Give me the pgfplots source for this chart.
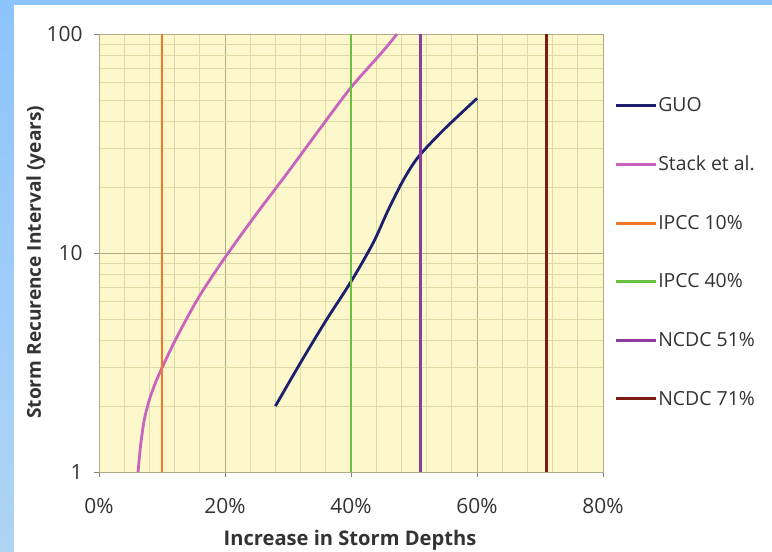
\documentclass[border=0pt]{standalone}
\usepackage{pgfplots}
\pgfplotsset{compat=1.18}
\usepackage{fontspec}
\setmainfont{Open Sans}
\definecolor{bgblue}{HTML}{8CC4FF}
\definecolor{bgblue2}{HTML}{AED4F4}
\definecolor{plotbg}{HTML}{FCF8CC}
\definecolor{majgrid}{HTML}{B0AC88}
\definecolor{mingrid}{HTML}{DEDAA6}
\definecolor{guo}{HTML}{1E1E6E}
\definecolor{stack}{HTML}{C864BE}
\definecolor{ipccA}{HTML}{F07828}
\definecolor{ipccB}{HTML}{6CC040}
\definecolor{ncdcA}{HTML}{8C3C9C}
\definecolor{ncdcB}{HTML}{7C1C14}
\definecolor{txt}{HTML}{333333}
\begin{document}
\begin{tikzpicture}[x=1bp,y=1bp]
\shade[top color=bgblue, bottom color=bgblue2] (0,0) rectangle (772,552);
\fill[white] (14,0) rectangle (772,547);
\begin{axis}[
  at={(99bp,80bp)}, anchor=south west,
  scale only axis, width=504bp, height=438bp,
  ymode=log, xmin=0, xmax=80, ymin=1, ymax=100,
  axis background/.style={fill=plotbg},
  xtick={0,20,40,60,80},
  xticklabels={0\%,20\%,40\%,60\%,80\%},
  ytick={1,10,100}, yticklabels={1,10,100},
  minor x tick num=4,
  grid=both,
  major grid style={draw=majgrid, line width=0.9bp},
  minor grid style={draw=mingrid, line width=0.7bp},
  tick align=outside, major tick length=5bp, minor tick length=0pt,
  xtick pos=bottom, ytick pos=left,
  tick style={draw=gray, line width=0.8bp},
  axis line style={draw=majgrid, line width=0.8bp},
  /pgf/number format/assume math mode=true,
  tick label style={font=\fontsize{21}{24}\selectfont, text=txt},
  xticklabel style={yshift=-18bp},
  yticklabel style={xshift=-8bp},
  xlabel={Increase in Storm Depths},
  ylabel={Storm Recurence Interval (years)},
  xlabel style={font=\fontsize{20.2}{24}\selectfont\bfseries, text=txt,
    at={(axis description cs:0.498,0)}, anchor=center, yshift=-68bp},
  ylabel style={font=\fontsize{19.2}{23}\selectfont\bfseries, text=txt,
    at={(axis description cs:0,0.479)}, anchor=center, yshift=63bp},
  legend style={draw=none, fill=none, at={(1.022,0.858)}, anchor=north west,
    font=\fontsize{19.5}{23}\selectfont, text=txt, row sep=41bp,
    inner sep=0pt, nodes={inner sep=1bp}},
  legend cell align=left,
  legend image code/.code={\draw[#1, line width=3bp] (0bp,0bp) -- (40bp,0bp);},
  every axis plot/.append style={line width=2.8bp},
]
\addplot[guo, smooth] coordinates {(28,2) (32,3.16) (36,4.9) (40,7.4) (43.5,11.1) (45.9,15.7) (48.3,21.5) (50.7,27.5) (54.7,36.5) (60,50.8)};
\addlegendentry{GUO}
\addplot[stack, smooth] coordinates {(6.2,1) (6.6,1.32) (7.2,1.74) (8,2.14) (9,2.57) (10,2.99) (12,3.94) (14,5.07) (16,6.4) (18,7.85) (20.5,10) (25,15.1) (30,23.4) (35,36.7) (40,57) (45,83) (47.3,100)};
\addlegendentry{Stack et al.}
\addplot[ipccA] coordinates {(10,1) (10,100)};
\addlegendentry{IPCC 10\%}
\addplot[ipccB] coordinates {(40,1) (40,100)};
\addlegendentry{IPCC 40\%}
\addplot[ncdcA] coordinates {(51,1) (51,100)};
\addlegendentry{NCDC 51\%}
\addplot[ncdcB] coordinates {(71,1) (71,100)};
\addlegendentry{NCDC 71\%}
\end{axis}
\pgfresetboundingbox
\useasboundingbox (0,0) rectangle (772,552);
\end{tikzpicture}
\end{document}
